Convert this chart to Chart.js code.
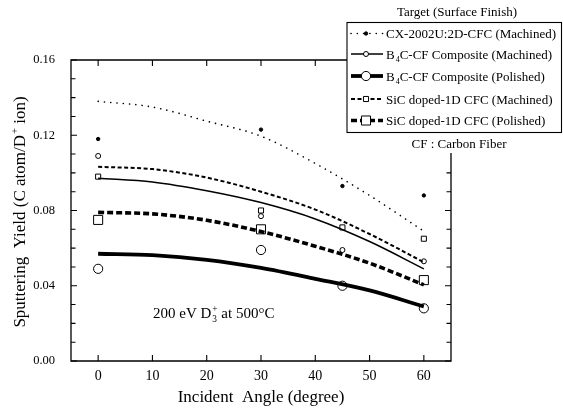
<!DOCTYPE html>
<html>
<head>
<meta charset="utf-8">
<script src="https://cdn.jsdelivr.net/npm/chart.js@4.4.0/dist/chart.umd.min.js"></script>
<style>
  html, body { margin: 0; padding: 0; background: #fff; }
  canvas { display: block; }
</style>
</head>
<body>
<canvas id="yieldChart" width="563" height="410"></canvas>
<script>
// =========================
// Data
// =========================
const seriesNames = [
  'CX-2002U:2D-CFC (Machined)',
  'B_{4}C-CF Composite (Machined)',
  'B_{4}C-CF Composite (Polished)',
  'SiC doped-1D CFC (Machined)',
  'SiC doped-1D CFC (Polished)'
];

// measured points
const measAngles = [0, 30, 45, 60];
const cxMeas      = [0.118, 0.123, 0.093, 0.088];
const b4cMachMeas = [0.109, 0.077, 0.059, 0.053];
const b4cPolMeas  = [0.049, 0.059, 0.040, 0.028];
const sicMachMeas = [0.098, 0.080, 0.071, 0.065];
const sicPolMeas  = [0.075, 0.070, null, 0.043];

// fitted curves
const fitAngles  = [0, 10, 20, 30, 40, 50, 60];
const cxFit      = [0.138, 0.135, 0.1275, 0.1195, 0.105, 0.088, 0.069];
const b4cMachFit = [0.0972, 0.0952, 0.0905, 0.0842, 0.0755, 0.0635, 0.049];
const b4cPolFit  = [0.057, 0.0563, 0.0538, 0.0495, 0.0437, 0.0375, 0.029];
const sicMachFit = [0.1032, 0.102, 0.0975, 0.090, 0.0805, 0.0675, 0.0525];
const sicPolFit  = [0.079, 0.0782, 0.0748, 0.0688, 0.061, 0.052, 0.0405];

// ticks
const xTicks = [0, 10, 20, 30, 40, 50, 60];
const xTickLabels = ['0', '10', '20', '30', '40', '50', '60'];
const yTicks = [0, 0.04, 0.08, 0.12, 0.16];
const yTickLabels = ['0.00', '0.04', '0.08', '0.12', '0.16'];
const yMinorTicks = [0.01, 0.02, 0.03, 0.05, 0.06, 0.07, 0.09, 0.10, 0.11, 0.13, 0.14, 0.15];

const xTitle = 'Incident  Angle (degree)';
const yTitle = 'Sputtering  Yield (C atom/D^{+} ion)';
const noteText = '200 eV D_{3}^{+} at 500°C';
const legendTitle = 'Target (Surface Finish)';
const legendNote = 'CF : Carbon Fiber';

// =========================
// Styles
// =========================
const SERIF = '"Liberation Serif", "DejaVu Serif", serif';
const styles = [
  { dash: [0.1, 6.2], width: 1.6, cap: 'round', pt: 'circle', r: 1.7, fill: true },
  { dash: [], width: 1.5, cap: 'butt', pt: 'circle', r: 2.5, fill: false },
  { dash: [], width: 3.8, cap: 'butt', pt: 'circle', r: 4.6, fill: false },
  { dash: [4, 2.5], width: 2, cap: 'butt', pt: 'rect', r: 3.6, fill: false },
  { dash: [6, 3], width: 3.6, cap: 'butt', pt: 'rect', r: 6.4, fill: false }
];

const fits = [cxFit, b4cMachFit, b4cPolFit, sicMachFit, sicPolFit];
const meas = [cxMeas, b4cMachMeas, b4cPolMeas, sicMachMeas, sicPolMeas];

const datasets = [];
fits.forEach((f, i) => {
  const s = styles[i];
  datasets.push({
    label: seriesNames[i] + ' fit',
    data: fitAngles.map((x, j) => ({ x: x, y: f[j] })),
    showLine: true,
    borderColor: '#000',
    borderWidth: s.width,
    borderDash: s.dash,
    borderCapStyle: s.cap,
    cubicInterpolationMode: 'monotone',
    pointRadius: 0,
    fill: false
  });
});
meas.forEach((m, i) => {
  const s = styles[i];
  datasets.push({
    label: seriesNames[i],
    data: measAngles.map((x, j) => ({ x: x, y: m[j] })).filter(p => p.y !== null),
    showLine: false,
    pointStyle: s.pt,
    pointRadius: s.r,
    pointBorderWidth: 1,
    pointBorderColor: '#000',
    pointBackgroundColor: s.fill ? '#000' : 'rgba(0,0,0,0)'
  });
});

// =========================
// rich text: _{sub} and ^{sup}
// =========================
function richParts(str) {
  return str.split(/(_\{[^}]*\}|\^\{[^}]*\})/).filter(t => t).map(t => {
    if (t.startsWith('_{')) return { t: t.slice(2, -1), mode: 'sub' };
    if (t.startsWith('^{')) return { t: t.slice(2, -1), mode: 'sup' };
    return { t: t, mode: '' };
  });
}
function richWidth(ctx, str, size) {
  let w = 0, lastSmall = 0;
  richParts(str).forEach(p => {
    if (p.mode) {
      ctx.font = (size * 0.62) + 'px ' + SERIF;
      lastSmall = Math.max(lastSmall, ctx.measureText(p.t).width + 1);
      return;
    }
    w += lastSmall; lastSmall = 0;
    ctx.font = size + 'px ' + SERIF;
    w += ctx.measureText(p.t).width;
  });
  return w + lastSmall;
}
function drawRich(ctx, str, x, y, size) {
  // y is the alphabetic baseline
  let cx = x, lastSmall = 0;
  ctx.textBaseline = 'alphabetic';
  ctx.textAlign = 'left';
  richParts(str).forEach(p => {
    if (p.mode) {
      ctx.font = (size * 0.62) + 'px ' + SERIF;
      const dy = p.mode === 'sub' ? size * 0.28 : -size * 0.42;
      ctx.fillText(p.t, cx + 1, y + dy);
      lastSmall = Math.max(lastSmall, ctx.measureText(p.t).width + 1);
      return;
    }
    cx += lastSmall; lastSmall = 0;
    ctx.font = size + 'px ' + SERIF;
    ctx.fillText(p.t, cx, y);
    cx += ctx.measureText(p.t).width;
  });
}

// =========================
// frame, ticks, titles, legend
// =========================
const decorPlugin = {
  id: 'decor',
  afterDraw(chart) {
    const ctx = chart.ctx;
    const xs = chart.scales.x, ys = chart.scales.y;
    const a = chart.chartArea;
    const legLeft = 347, rightAxisTop = 153;
    ctx.save();
    ctx.strokeStyle = '#000';
    ctx.fillStyle = '#000';
    ctx.setLineDash([]);
    ctx.lineWidth = 1.3;

    // frame (top-right part hidden behind legend)
    ctx.beginPath();
    ctx.moveTo(legLeft, a.top);
    ctx.lineTo(a.left, a.top);
    ctx.lineTo(a.left, a.bottom);
    ctx.lineTo(a.right, a.bottom);
    ctx.lineTo(a.right, rightAxisTop);
    ctx.stroke();

    // ticks, pointing inward
    ctx.lineWidth = 1.1;
    ctx.beginPath();
    xTicks.forEach(v => {
      const px = xs.getPixelForValue(v);
      ctx.moveTo(px, a.bottom); ctx.lineTo(px, a.bottom - 6);
      if (px < legLeft - 2) { ctx.moveTo(px, a.top); ctx.lineTo(px, a.top + 6); }
    });
    yTicks.concat(yMinorTicks).forEach(v => {
      const py = ys.getPixelForValue(v);
      const len = yTicks.includes(v) ? 6 : 4.5;
      ctx.moveTo(a.left, py); ctx.lineTo(a.left + len, py);
      if (py > rightAxisTop + 5) { ctx.moveTo(a.right, py); ctx.lineTo(a.right - len, py); }
    });
    ctx.stroke();

    // axis titles
    ctx.font = '17px ' + SERIF;
    ctx.textAlign = 'center';
    ctx.textBaseline = 'middle';
    ctx.fillText(xTitle, (a.left + a.right) / 2, 398);

    ctx.save();
    ctx.translate(19, 212);
    ctx.rotate(-Math.PI / 2);
    const yw = richWidth(ctx, yTitle, 17);
    drawRich(ctx, yTitle, -yw / 2, 6, 17);
    ctx.restore();

    // annotation
    drawRich(ctx, noteText, 153, 318, 15);

    // legend
    ctx.font = '13px ' + SERIF;
    ctx.textAlign = 'center';
    ctx.textBaseline = 'middle';
    ctx.fillText(legendTitle, 457, 13);
    ctx.fillText(legendNote, 459, 145);
    ctx.lineWidth = 1.1;
    ctx.strokeRect(347, 22.5, 214.5, 110);

    const rowsY = [33.5, 54, 76, 99, 120.5];
    seriesNames.forEach((name, i) => {
      const s = styles[i];
      const y = rowsY[i];
      ctx.save();
      ctx.lineWidth = s.width;
      ctx.lineCap = s.cap;
      ctx.setLineDash(s.dash);
      ctx.beginPath();
      ctx.moveTo(351, y); ctx.lineTo(383, y);
      ctx.stroke();
      ctx.restore();
      ctx.save();
      ctx.fillStyle = s.fill ? '#000' : '#fff';
      ctx.lineWidth = 1;
      ctx.beginPath();
      if (s.pt === 'circle') ctx.arc(366, y, s.r, 0, Math.PI * 2);
      else { const h = s.r * Math.SQRT1_2; ctx.rect(366 - h, y - h, 2 * h, 2 * h); }
      ctx.fill();
      ctx.stroke();
      ctx.restore();
      drawRich(ctx, name, 386, y + 4.5, 13);
    });
    ctx.restore();
  }
};

// =========================
// Chart
// =========================
new Chart(document.getElementById('yieldChart'), {
  type: 'scatter',
  data: { datasets: datasets },
  options: {
    responsive: false,
    animation: false,
    layout: { padding: { left: 0, top: 60, right: 112, bottom: 0 } },
    plugins: {
      legend: { display: false },
      tooltip: { enabled: false }
    },
    scales: {
      x: {
        type: 'linear',
        min: -5,
        max: 65,
        afterBuildTicks: s => { s.ticks = xTicks.map(v => ({ value: v })); },
        afterFit: s => { s.height = 49; },
        grid: { display: false, drawTicks: false },
        border: { display: false },
        ticks: {
          color: '#000', font: { family: SERIF, size: 14 }, padding: 7, maxRotation: 0, autoSkip: false,
          callback: (v, i) => xTickLabels[i]
        }
      },
      y: {
        type: 'linear',
        min: 0,
        max: 0.16,
        afterBuildTicks: s => { s.ticks = yTicks.map(v => ({ value: v })); },
        afterFit: s => { s.width = 71; },
        grid: { display: false, drawTicks: false },
        border: { display: false },
        ticks: {
          color: '#000', font: { family: SERIF, size: 12.5 }, padding: 16, autoSkip: false,
          callback: (v, i) => yTickLabels[i]
        }
      }
    }
  },
  plugins: [decorPlugin]
});
</script>
</body>
</html>
